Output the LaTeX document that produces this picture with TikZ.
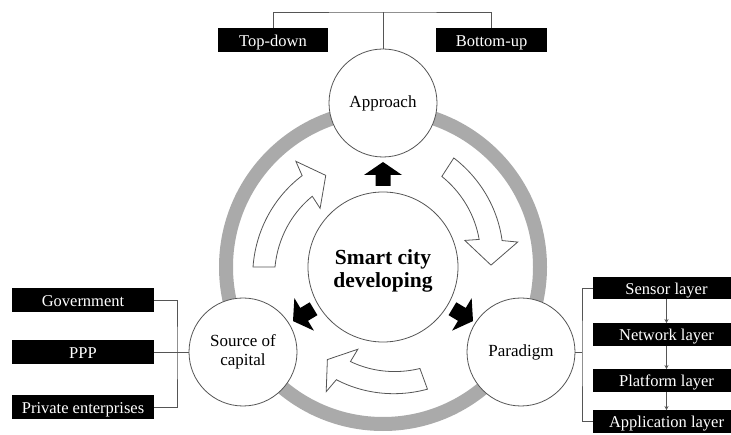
\documentclass[tikz,border=0pt]{standalone}
\usepackage{fontspec}
\setmainfont{Liberation Serif}
\usetikzlibrary{arrows.meta}
\definecolor{ringgray}{RGB}{170,170,170}
\definecolor{linegray}{RGB}{85,85,85}
\tikzset{
  bigcirc/.style={circle, draw=linegray, line width=0.8pt, fill=white, minimum size=108pt, inner sep=0pt, align=center, font=\fontsize{17}{19.5}\selectfont},
  hubcirc/.style={circle, draw=linegray, line width=0.8pt, fill=white, minimum size=150pt, inner sep=0pt},
  hubtext/.style={align=center, inner sep=0pt, font=\fontsize{21.5}{23}\selectfont\bfseries},
  blackbox/.style={fill=black, text=white, inner sep=0pt, minimum height=24pt, text height=13pt, text depth=0pt, font=\fontsize{16.5}{18}\selectfont},
  layerbox/.style={blackbox, minimum width=147pt, minimum height=22.5pt},
  conn/.style={draw=linegray, line width=0.7pt},
  harrow/.style={draw=linegray, line width=0.8pt, fill=white, line join=miter},
  barrow/.style={fill=black},
}
% hollow curved arrow: tail angle, head-base angle, tip angle (screen angles, clockwise)
\newcommand{\hollowarrow}[3]{%
  \begin{scope}[shift={(383,267)}]
    \draw[harrow] plot[domain=0:1, samples=30] ({#1+(#2+2-#1)*\x}:{130-8*\x})
      -- ({#2+4}:137) -- (#3:108) -- ({#2-3.5}:86)
      -- plot[domain=0:1, samples=30] ({#2-1.5+(#1-#2+1.5)*\x}:{100+8*\x}) -- cycle;
  \end{scope}}
% solid block arrow pointing outward at visual angle #1
\newcommand{\blockarrow}[1]{%
  \fill[barrow, shift={(383,267)}, rotate=#1] (81,-7.5) -- (92,-7.5) -- (92,-19) -- (105,0) -- (92,19) -- (92,7.5) -- (81,7.5) -- cycle;}
\begin{document}
\begin{tikzpicture}[x=1pt, y=-1pt]
  \useasboundingbox (0,0) rectangle (731,435);
  % ring
  \draw[ringgray, line width=14pt] (383,267) circle[radius=157pt];
  % circles
  \node[hubcirc] (hub) at (383,267) {};
  \node[hubtext, yshift=-4pt] (hublabel) at (hub.center) {Smart city\\developing};
  \node[bigcirc] (appr) at (383,103) {Approach};
  \node[bigcirc] (src) at (243,352) {Source of\\capital};
  \node[bigcirc] (para) at (521,352) {Paradigm};
  % hollow arrows
  \hollowarrow{180}{226.5}{238}
  \hollowarrow{303}{345.5}{359}
  \hollowarrow{70}{110.5}{121}
  % solid arrows
  \blockarrow{90}
  \blockarrow{211}
  \blockarrow{-31}
  % top boxes
  \node[blackbox, minimum width=110pt] (td) at (273,40) {Top-down};
  \node[blackbox, minimum width=111pt] (bu) at (491.5,40) {Bottom-up};
  \coordinate (tj) at (383,12);
  \draw[conn] (appr.north) -- (tj);
  \draw[conn] (td.north) |- (tj) -| (bu.north);
  % left boxes
  \node[blackbox, minimum width=142pt] (gov) at (83,300) {Government};
  \node[blackbox, minimum width=142pt] (ppp) at (83,352) {PPP};
  \node[blackbox, minimum width=142pt] (priv) at (83,407) {Private enterprises};
  \coordinate (lj) at (177,352);
  \draw[conn] (gov.east) -| (lj) |- (priv.east);
  \draw[conn] (ppp.east) -- (src.west);
  % right boxes
  \node[layerbox] (sensor) at (666.5,288) {Sensor layer};
  \node[layerbox] (network) at (666.5,334.5) {Network layer};
  \node[layerbox] (platform) at (666.5,380.5) {Platform layer};
  \node[layerbox] (application) at (666.5,421.5) {Application layer};
  \coordinate (rj) at (582,352);
  \draw[conn] (para.east) -- (rj);
  \draw[conn] (sensor.west) -| (rj) |- (application.west);
  \draw[conn, -{Stealth[length=4pt,width=4pt]}] (sensor.south) -- (network.north);
  \draw[conn, -{Stealth[length=4pt,width=4pt]}] (network.south) -- (platform.north);
  \draw[conn, -{Stealth[length=4pt,width=4pt]}] (platform.south) -- (application.north);
\end{tikzpicture}
\end{document}
